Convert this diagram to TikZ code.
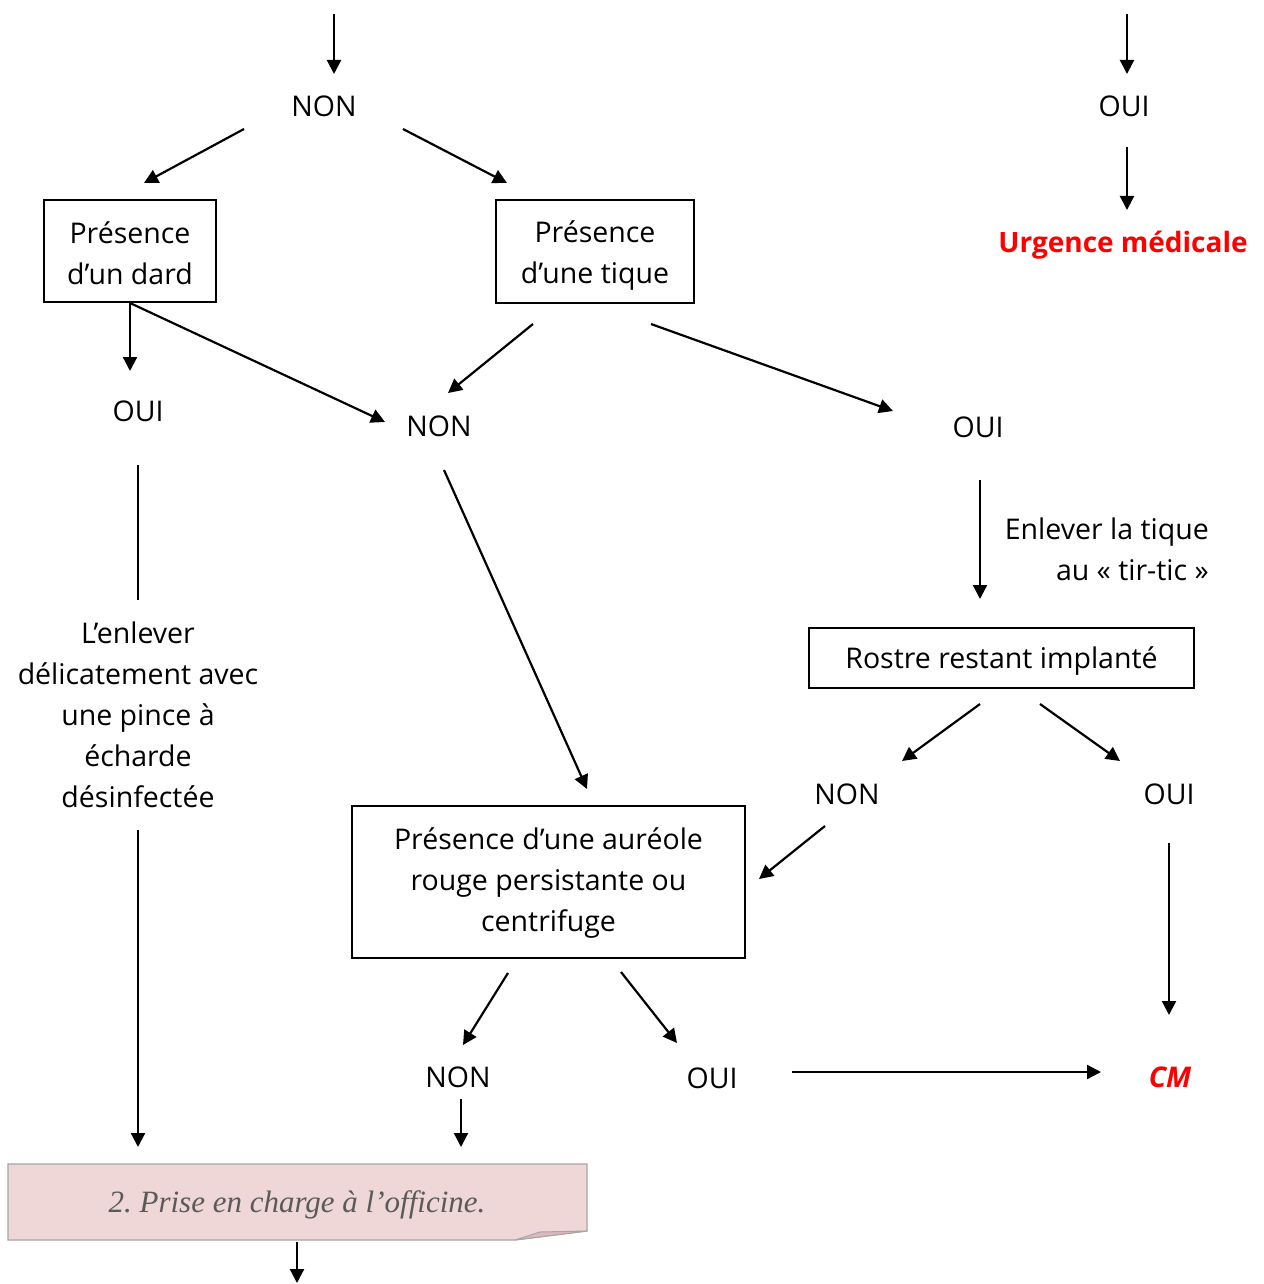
\documentclass[tikz,border=0pt]{standalone}
\usepackage{fontspec}
\setmainfont{Open Sans}
\newfontfamily\bannerfont{Liberation Serif}
\usetikzlibrary{arrows.meta}
\definecolor{urg}{RGB}{255,0,0}
\definecolor{bannerfill}{RGB}{239,214,215}
\definecolor{bannerfold}{RGB}{222,185,187}
\definecolor{bannertext}{RGB}{90,90,90}
\frenchspacing
\begin{document}
\begin{tikzpicture}[x=1pt,y=-1pt,
  lbl/.style={inner sep=0pt,font=\fontsize{28.5}{41}\selectfont},
  box/.style={draw,line width=1.6pt,inner sep=0pt,font=\fontsize{28.5}{41}\selectfont,align=center},
  boxtxt/.style={inner sep=0pt,font=\fontsize{28.5}{41}\selectfont,align=center},
  arr/.style={line width=2.2pt,-{Triangle[length=14pt,width=14pt]}},
  ln/.style={line width=1.8pt}]
\useasboundingbox (0,0) rectangle (1263,1284);
% labels
\node[lbl] (non1) at (324,106) {NON};
\node[lbl] (oui1) at (1124,106) {OUI};
\node[lbl,text=urg,font=\fontsize{28}{41}\selectfont\bfseries] (urg) at (1123,245) {Urgence médicale};
\node[box,minimum width=172pt,minimum height=102pt] (dard) at (130,251) {};
\node[boxtxt] (dardt) at (130,253) {Présence\\d’un dard};
\node[box,minimum width=198pt,minimum height=103pt] (tique) at (595,251.5) {};
\node[boxtxt] (tiquet) at (595,256) {Présence\\d’une tique};
\node[lbl] (oui2) at (138,411) {OUI};
\node[lbl] (non2) at (439,426) {NON};
\node[lbl] (oui3) at (978,427) {OUI};
\node[lbl,align=center] (enlever) at (138,715) {L’enlever\\délicatement avec\\une pince à\\écharde\\désinfectée};
\node[lbl,align=right,anchor=east] (tirtic) at (1209,549) {Enlever la tique\\au « tir-tic »};
\node[box,minimum width=385pt,minimum height=60pt] (rostre) at (1001.5,658) {};
\node[boxtxt] (rostret) at (1001.5,661) {Rostre restant implanté};
\node[lbl] (non3) at (847,794) {NON};
\node[lbl] (oui4) at (1169,794) {OUI};
\node[box,minimum width=393pt,minimum height=152pt] (aureole) at (548.5,882) {};
\node[boxtxt] (aureolet) at (548.5,883) {Présence d’une auréole\\rouge persistante ou\\centrifuge};
\node[lbl] (non4) at (458,1077) {NON};
\node[lbl] (oui5) at (712,1078) {OUI};
\node[lbl,text=urg,font=\fontsize{28.5}{41}\selectfont\bfseries\itshape] (cm) at (1170,1077) {CM};
% banner
\fill[bannerfill,draw=black!35,line width=1.2pt] (8,1164) -- (587,1164) -- (587,1231) -- (515,1240) -- (8,1240) -- cycle;
\fill[bannerfold,draw=black!35,line width=1pt] (515,1240) -- (540,1232) -- (587,1231) -- cycle;
\node[inner sep=0pt,text=bannertext,font=\bannerfont\itshape\fontsize{31}{36}\selectfont] (banner) at (297,1205) {2. Prise en charge à l’officine.};
% coordinates
\coordinate (t1) at (334,14); \coordinate (t1e) at (334,74);
\coordinate (t2) at (1127,14); \coordinate (t2e) at (1127,74);
\coordinate (o1s) at (1127,147); \coordinate (o1e) at (1127,210);
\coordinate (n1a) at (244,129); \coordinate (n1ae) at (144,183);
\coordinate (n1b) at (403,129); \coordinate (n1be) at (507,183);
\coordinate (da) at (130,303); \coordinate (dae) at (130,371);
\coordinate (dbe) at (385,422);
\coordinate (ta) at (533,324); \coordinate (tae) at (448,393);
\coordinate (tb) at (651,324); \coordinate (tbe) at (893,411);
\coordinate (o2s) at (138,465); \coordinate (o2e) at (138,600);
\coordinate (e1) at (138,830); \coordinate (e1e) at (138,1147);
\coordinate (n2s) at (444,470); \coordinate (n2e) at (587,789);
\coordinate (o3s) at (980,480); \coordinate (o3e) at (980,599);
\coordinate (ra) at (980,704); \coordinate (rae) at (902,761);
\coordinate (rb) at (1040,704); \coordinate (rbe) at (1120,761);
\coordinate (n3s) at (825,826); \coordinate (n3e) at (759,879);
\coordinate (o4s) at (1169,843); \coordinate (o4e) at (1169,1015);
\coordinate (aa) at (508,973); \coordinate (aae) at (463,1045);
\coordinate (ab) at (621,972); \coordinate (abe) at (677,1043);
\coordinate (o5s) at (792,1072); \coordinate (o5e) at (1101,1072);
\coordinate (n4s) at (461,1099); \coordinate (n4e) at (461,1147);
\coordinate (bs) at (297,1242); \coordinate (be) at (297,1283);
% connectors
\draw[arr] (t1) -- (t1e);
\draw[arr] (t2) -- (t2e);
\draw[arr] (o1s) -- (o1e);
\draw[arr] (n1a) -- (n1ae);
\draw[arr] (n1b) -- (n1be);
\draw[arr] (da) -- (dae);
\draw[arr] (da) -- (dbe);
\draw[arr] (ta) -- (tae);
\draw[arr] (tb) -- (tbe);
\draw[ln] (o2s) -- (o2e);
\draw[arr] (e1) -- (e1e);
\draw[arr] (n2s) -- (n2e);
\draw[arr] (o3s) -- (o3e);
\draw[arr] (ra) -- (rae);
\draw[arr] (rb) -- (rbe);
\draw[arr] (n3s) -- (n3e);
\draw[arr] (o4s) -- (o4e);
\draw[arr] (aa) -- (aae);
\draw[arr] (ab) -- (abe);
\draw[arr] (o5s) -- (o5e);
\draw[arr] (n4s) -- (n4e);
\draw[arr] (bs) -- (be);
\end{tikzpicture}
\end{document}
